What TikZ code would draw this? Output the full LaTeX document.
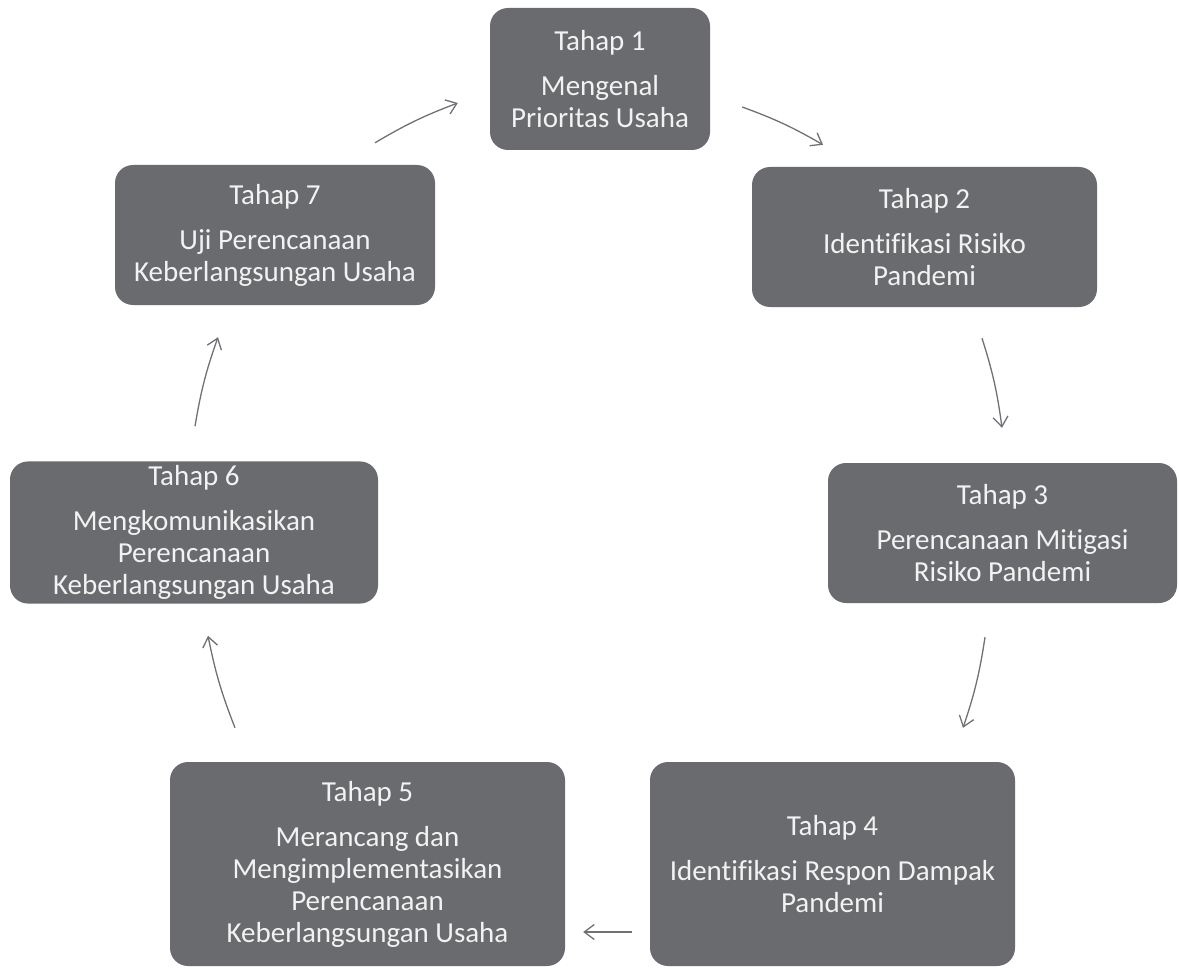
\documentclass[tikz,border=0pt]{standalone}
\usepackage{fontspec}
\setmainfont{Carlito}[Ligatures=NoCommon]
\usepackage{tikz}
\usetikzlibrary{arrows.meta}

\definecolor{boxgray}{RGB}{106,107,110}
\definecolor{txtwhite}{RGB}{242,242,242}
\definecolor{arrgray}{RGB}{112,112,118}

\begin{document}
\begin{tikzpicture}[x=1pt,y=-1pt,
  tahap/.style={rectangle,rounded corners=18pt,fill=boxgray,text=txtwhite,align=center,
    font=\fontsize{29}{32}\selectfont,inner sep=4pt},
  panah/.style={draw=arrgray,line width=1.3pt,-{Straight Barb[length=10pt,width=15pt]},bend left=5}]

\useasboundingbox (0,0) rectangle (1179,971);

%\draw[
%  help lines,
%  gray!30,
%] (0,0) grid[step=50] (1179,971);

\node[tahap,minimum width=220pt,minimum height=142pt] (t1) at (600,79) {Tahap 1\\[13pt]Mengenal\\Prioritas Usaha};
\node[tahap,minimum width=345pt,minimum height=140pt] (t2) at (924.5,237) {Tahap 2\\[13pt]Identifikasi Risiko\\Pandemi};
\node[tahap,minimum width=349pt,minimum height=140pt] (t3) at (1002.5,533) {Tahap 3\\[13pt]Perencanaan Mitigasi\\Risiko Pandemi};
\node[tahap,minimum width=365pt,minimum height=204pt] (t4) at (832.5,864) {Tahap 4\\[13pt]Identifikasi Respon Dampak\\Pandemi};
\node[tahap,minimum width=395pt,minimum height=204pt] (t5) at (367.5,864) {Tahap 5\\[13pt]Merancang dan\\Mengimplementasikan\\Perencanaan\\Keberlangsungan Usaha};
\node[tahap,minimum width=368pt,minimum height=141pt] (t6) at (194,532.5) {Tahap 6\\[13pt]Mengkomunikasikan\\Perencanaan\\Keberlangsungan Usaha};
\node[tahap,minimum width=320pt,minimum height=140pt] (t7) at (275,235) {Tahap 7\\[13pt]Uji Perencanaan\\Keberlangsungan Usaha};

\draw[panah] ([shift={(32,28)}]t1.east) to ([shift={(-101.5,-22)}]t2.north);
\draw[panah] ([shift={(57.5,31)}]t2.south) to ([shift={(-0.5,-35)}]t3.north);
\draw[panah] ([shift={(-17.5,34)}]t3.south) to ([shift={(130.5,-34)}]t4.north);
\draw[panah,bend left=0] ([shift={(-18,68)}]t4.west) to ([shift={(18,68)}]t5.east);
\draw[panah] ([shift={(-132.5,-34)}]t5.north) to ([shift={(14,32)}]t6.south);
\draw[panah] ([shift={(1,-35)}]t6.north) to ([shift={(-57,32)}]t7.south);
\draw[panah] ([shift={(100,-22)}]t7.north) to ([shift={(-32,24)}]t1.west);

\end{tikzpicture}
\end{document}
